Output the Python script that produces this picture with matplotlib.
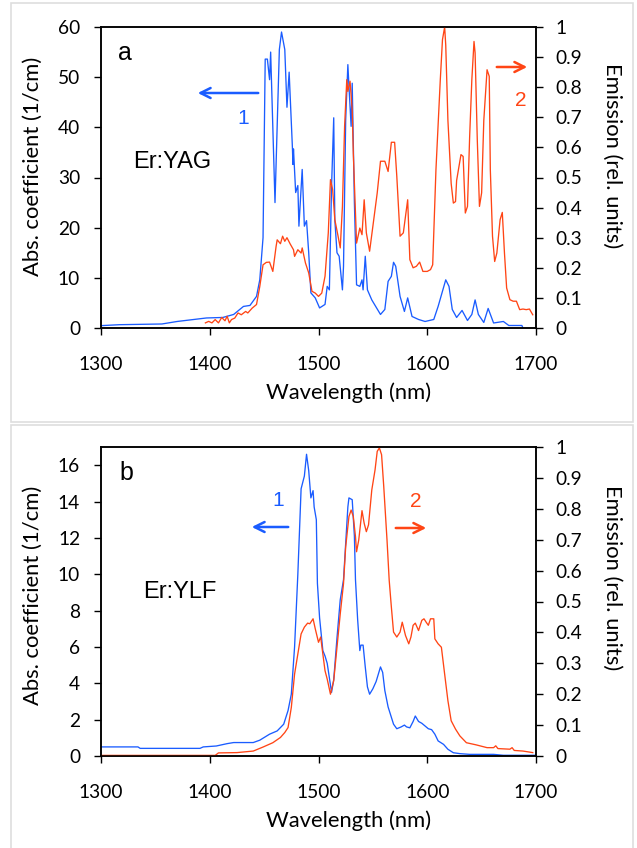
import numpy as np
import matplotlib
matplotlib.use('Agg')
import matplotlib.pyplot as plt
from matplotlib.patches import Rectangle

# Er:YAG absorption (1/cm), curve 1
yag_abs_nm = [1300, 1317, 1356, 1370, 1397, 1412, 1422, 1431, 1437, 1443, 1446, 1449, 1451, 1453, 1455,
              1456, 1460, 1464, 1466, 1469, 1471, 1473, 1476, 1476.5, 1477, 1479, 1481, 1482, 1485, 1487,
              1489, 1491, 1493, 1497, 1501, 1506, 1508, 1510, 1512, 1514, 1515, 1517, 1519, 1522, 1523,
              1525, 1527, 1528, 1530, 1531, 1533, 1535, 1538, 1540, 1541, 1543, 1545, 1549, 1557, 1561,
              1564, 1567, 1569, 1571, 1575, 1579, 1582, 1586, 1592, 1598, 1606, 1610, 1617, 1620, 1623,
              1627, 1632, 1637, 1641, 1644, 1647, 1652, 1656, 1661, 1670, 1675, 1687, 1688]
yag_abs = [0.47, 0.66, 0.8, 1.3, 2.0, 2.1, 2.7, 4.3, 4.5, 6.3, 9.6, 18, 53.6, 53.6, 49.5,
           55, 25, 55.5, 59, 55.5, 44, 51, 36, 32.6, 35.7, 27, 28.4, 20.3, 31.6, 20.3,
           21.4, 15, 7, 6, 4, 4.7, 8.3, 7.6, 28.2, 41.9, 21.6, 15, 14.3, 7.6, 12.3,
           41.5, 52.5, 48.2, 40.2, 48.8, 25, 8.6, 8.3, 9.6, 7.6, 14.3, 7.6, 5.6, 2.7, 3.7,
           9.3, 10.3, 13.1, 12.3, 6.3, 3.3, 6, 2.3, 1.7, 1.3, 1.7, 4.3, 9.6, 8.3, 3.7,
           2.1, 3.5, 1.5, 2.7, 5.6, 2.7, 1.1, 3.9, 1.0, 1.3, 0.5, 0.5, 0.0]

# Er:YAG emission (rel. units), curve 2
yag_em_nm = [1396, 1399, 1402, 1405, 1408, 1411, 1414, 1416, 1418, 1420, 1423, 1426, 1429, 1433, 1435,
             1439, 1443, 1446, 1449, 1452, 1455, 1458, 1461, 1462, 1465, 1467, 1469, 1471, 1474, 1477,
             1478, 1481, 1484, 1485, 1488, 1491, 1494, 1497, 1500, 1503, 1506, 1509, 1511, 1513, 1515,
             1518, 1520, 1522, 1524, 1526, 1527, 1529, 1531, 1532, 1534, 1535, 1538, 1540, 1542, 1544,
             1547, 1550, 1554, 1557, 1561, 1564, 1567, 1570, 1572, 1575, 1578, 1582, 1584, 1587, 1590,
             1593, 1596, 1600, 1603, 1605, 1608, 1612, 1614, 1616, 1617, 1619, 1622, 1624, 1626, 1627,
             1631, 1633, 1635, 1637, 1639, 1641, 1643, 1644, 1646, 1648, 1650, 1652, 1655, 1657, 1658,
             1660, 1662, 1664, 1667, 1669, 1671, 1673, 1676, 1679, 1682, 1685, 1688, 1691, 1694, 1697]
yag_em = [0.017, 0.022, 0.017, 0.028, 0.017, 0.035, 0.024, 0.039, 0.017, 0.028, 0.033, 0.05, 0.044, 0.055, 0.05,
          0.066, 0.078, 0.138, 0.21, 0.218, 0.219, 0.188, 0.271, 0.293, 0.28, 0.305, 0.288, 0.3, 0.279, 0.26,
          0.238, 0.26, 0.249, 0.266, 0.216, 0.183, 0.122, 0.116, 0.105, 0.116, 0.172, 0.316, 0.493, 0.46, 0.36,
          0.305, 0.266, 0.404, 0.67, 0.825, 0.786, 0.82, 0.725, 0.581, 0.382, 0.282, 0.332, 0.31, 0.426, 0.316,
          0.255, 0.338, 0.449, 0.554, 0.554, 0.52, 0.617, 0.617, 0.504, 0.305, 0.316, 0.426, 0.227, 0.2, 0.205,
          0.219, 0.188, 0.188, 0.194, 0.21, 0.526, 0.825, 0.958, 1.0, 0.94, 0.69, 0.48, 0.415, 0.42, 0.49,
          0.576, 0.57, 0.382, 0.404, 0.637, 0.825, 0.952, 0.914, 0.626, 0.404, 0.449, 0.69, 0.858, 0.836, 0.526,
          0.305, 0.221, 0.249, 0.36, 0.384, 0.249, 0.133, 0.094, 0.089, 0.089, 0.061, 0.063, 0.061, 0.063, 0.044]

# Er:YLF absorption (1/cm), curve 1
ylf_abs_nm = [1300, 1334, 1336, 1391, 1394, 1406, 1416, 1422, 1440, 1446, 1455, 1462, 1468, 1472, 1475,
              1478, 1481, 1484, 1487, 1489, 1491, 1493, 1495, 1496, 1498, 1499, 1501, 1504, 1506, 1508,
              1510, 1512, 1514, 1517, 1520, 1523, 1525, 1527, 1528, 1531, 1533, 1534, 1536, 1538, 1539,
              1541, 1543, 1545, 1547, 1550, 1553, 1557, 1559, 1561, 1564, 1569, 1572, 1576, 1579, 1581,
              1584, 1587, 1589, 1592, 1595, 1598, 1601, 1604, 1607, 1610, 1615, 1619, 1624, 1630, 1639,
              1661, 1670, 1700]
ylf_abs = [0.5, 0.5, 0.42, 0.42, 0.5, 0.55, 0.68, 0.74, 0.74, 0.87, 1.2, 1.38, 1.75, 2.5, 3.4,
           6.0, 10.0, 14.7, 15.4, 16.6, 15.7, 14.2, 14.6, 13.7, 13.0, 9.5, 7.6, 5.8, 5.5, 5.1,
           4.3, 3.5, 4.2, 6.5, 8.6, 9.7, 11.7, 13.7, 14.2, 14.1, 12.1, 9.7, 7.5, 5.8, 6.1,
           6.1, 4.9, 3.8, 3.4, 3.7, 4.1, 4.9, 4.6, 3.6, 2.7, 1.75, 1.5, 1.6, 1.7, 1.6,
           1.55, 1.9, 2.2, 1.9, 1.8, 1.65, 1.5, 1.45, 1.2, 0.83, 0.64, 0.37, 0.18, 0.13, 0.09,
           0.09, 0.04, 0.04]

# Er:YLF emission (rel. units), curve 2
ylf_em_nm = [1300, 1405, 1408, 1425, 1440, 1449, 1458, 1465, 1469, 1472, 1475, 1478, 1481, 1484, 1487,
             1490, 1492, 1495, 1497, 1500, 1502, 1504, 1506, 1508, 1511, 1514, 1517, 1520, 1523, 1525,
             1528, 1530, 1532, 1534, 1535, 1537, 1540, 1542, 1544, 1546, 1549, 1552, 1554, 1556, 1558,
             1560, 1563, 1565, 1567, 1569, 1572, 1575, 1577, 1580, 1583, 1585, 1587, 1589, 1592, 1595,
             1597, 1599, 1601, 1603, 1606, 1607, 1610, 1613, 1616, 1619, 1622, 1626, 1630, 1636, 1645,
             1655, 1661, 1663, 1665, 1676, 1678, 1680, 1688, 1697]
ylf_em = [0.002, 0.002, 0.01, 0.011, 0.016, 0.029, 0.043, 0.06, 0.076, 0.092, 0.157, 0.265, 0.33, 0.395, 0.417,
          0.43, 0.428, 0.444, 0.412, 0.368, 0.385, 0.33, 0.276, 0.249, 0.2, 0.244, 0.352, 0.46, 0.558, 0.677,
          0.775, 0.796, 0.775, 0.71, 0.661, 0.699, 0.794, 0.753, 0.726, 0.748, 0.861, 0.926, 0.986, 0.997, 0.975,
          0.872, 0.699, 0.569, 0.482, 0.401, 0.385, 0.401, 0.433, 0.39, 0.363, 0.385, 0.423, 0.43, 0.406, 0.439,
          0.444, 0.433, 0.423, 0.444, 0.444, 0.379, 0.363, 0.352, 0.265, 0.179, 0.114, 0.087, 0.065, 0.043, 0.036,
          0.027, 0.027, 0.033, 0.024, 0.022, 0.027, 0.018, 0.016, 0.011]

blue = '#1a5cff'
red = '#ff4515'
tick_font = 'Lato'
text_font = 'Liberation Sans'
W, H = 637, 848

fig = plt.figure(figsize=(W / 100, H / 100), dpi=100)

# light panel frames
fig.patches.append(Rectangle((11 / W, 1 - 422 / H), 622 / W, 419 / H, transform=fig.transFigure,
                             fill=False, edgecolor='#dedede', lw=1.2))
fig.patches.append(Rectangle((11 / W, -0.01), 622 / W, 1 - 425 / H + 0.01, transform=fig.transFigure,
                             fill=False, edgecolor='#dedede', lw=1.2))


def px(x, y):
    return x / W, 1 - y / H


def make_panel(top, bottom, nm1, v1, nm2, v2, ymax, yticks, letter, name, marks, lab_y):
    l, b = px(101, bottom)
    ax = fig.add_axes([l, b, 435 / W, (bottom - top) / H])
    ax2 = ax.twinx()
    ax.plot(nm1, v1, color=blue, lw=0.95)
    ax2.plot(nm2, v2, color=red, lw=0.95)
    ax.set_xlim(1300, 1700)
    ax.set_ylim(0, ymax)
    ax2.set_ylim(0, 1)
    ax.set_xticks([1300, 1400, 1500, 1600, 1700])
    ax.set_yticks(yticks)
    ax2.set_yticks(np.arange(0, 11) / 10)
    ax2.set_yticklabels(['0'] + ['%.1f' % (i / 10) for i in range(1, 10)] + ['1'])
    for a in (ax, ax2):
        for s in a.spines.values():
            s.set_linewidth(1.1)
        a.tick_params(direction='out', length=5, width=1, labelsize=13.8)
        for t in a.get_xticklabels() + a.get_yticklabels():
            t.set_fontfamily(tick_font)
    ax.tick_params(axis='x', pad=15)
    ax.tick_params(axis='y', pad=10)
    ax2.tick_params(axis='y', pad=9)

    # labels
    fig.text(*px(349, bottom + 65), 'Wavelength (nm)', ha='center', va='center',
             fontsize=15.8, family=tick_font)
    fig.text(*px(33, lab_y[0]), 'Abs. coefficient (1/cm)', ha='center', va='center',
             rotation=90, fontsize=15.8, family=tick_font)
    fig.text(*px(612, lab_y[1]), 'Emission (rel. units)', ha='center', va='center',
             rotation=270, fontsize=15.8, family=tick_font)

    # annotations
    (bt, bh, n1), (rt, rh, n2), let_xy, name_xy = marks
    ax.text(*let_xy, letter, fontsize=18, family=text_font, ha='center', va='center', transform=fig.transFigure)
    ax.text(*name_xy, name, fontsize=17, family=text_font, ha='center', va='center', transform=fig.transFigure)
    ax.annotate('', xy=px(*bh), xytext=px(*bt), xycoords='figure fraction', textcoords='figure fraction',
                arrowprops=dict(arrowstyle='->', color=blue, lw=1.8, mutation_scale=18))
    ax.annotate('', xy=px(*rh), xytext=px(*rt), xycoords='figure fraction', textcoords='figure fraction',
                arrowprops=dict(arrowstyle='->', color=red, lw=1.8, mutation_scale=18))
    fig.text(*px(*n1), '1', color=blue, fontsize=15, family=text_font, ha='center', va='center')
    fig.text(*px(*n2), '2', color=red, fontsize=15, family=text_font, ha='center', va='center')
    return ax


make_panel(27, 328, yag_abs_nm, yag_abs, yag_em_nm, yag_em, 60, range(0, 61, 10), 'a', 'Er:YAG',
           (((261, 93), (195, 93), (243, 118)), ((494, 67), (530, 67), (521, 100)),
            px(125, 53), px(172, 162)), (166, 156))

make_panel(447, 756, ylf_abs_nm, ylf_abs, ylf_em_nm, ylf_em, 17, range(0, 17, 2), 'b', 'Er:YLF',
           (((291, 527), (249, 527), (278, 500)), ((393, 528), (429, 528), (416, 502)),
            px(126, 473), px(180, 592)), (595, 578))

fig.savefig('out.png', dpi=100)
